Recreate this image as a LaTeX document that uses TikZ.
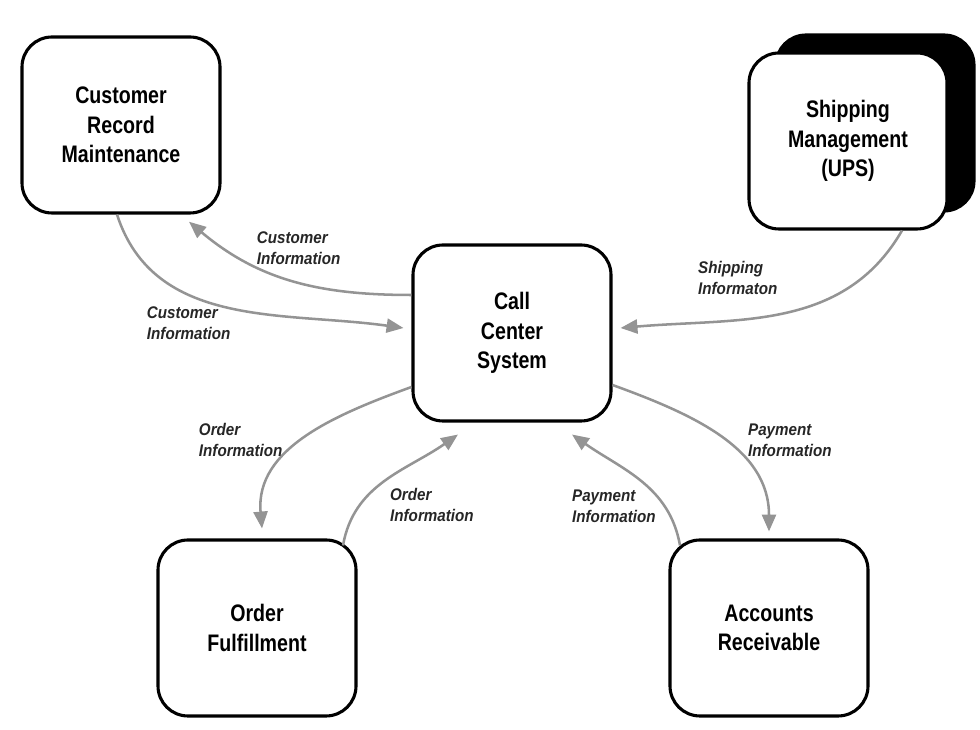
\documentclass[tikz,border=0pt]{standalone}
\usepackage{fontspec}
\newfontfamily\boxfont{Liberation Sans}[FakeStretch=0.82]
\newfontfamily\lblfont{Liberation Sans}[FakeStretch=0.9]
\usetikzlibrary{arrows.meta,shadows}

\begin{document}
\begin{tikzpicture}[
  sysbox/.style={draw=black,line width=2.2pt,rounded corners=0.75cm,fill=white,
    minimum width=4.95cm,minimum height=4.4cm,align=center,
    font=\boxfont\fontsize{17}{21}\selectfont\bfseries},
  flow/.style={draw=black!42,line width=1.8pt,-{Triangle[length=12pt,width=10pt]}},
  info/.style={anchor=west,align=left,text=black!85,
    font=\lblfont\fontsize{12}{15}\selectfont\bfseries\itshape}
]
\useasboundingbox (0,0) rectangle (24.5,18.25);

% systems
\node[sysbox] (crm) at (3.025,15.125) {Customer\\Record\\Maintenance};
\node[sysbox,copy shadow={shadow xshift=0.675cm,shadow yshift=0.45cm,fill=black,draw=black}]
  (ship) at (21.2,14.725) {Shipping\\Management\\(UPS)};
\node[sysbox] (ccs) at (12.8,9.925) {Call\\Center\\System};
\node[sysbox] (of) at (6.425,2.55) {Order\\Fulfillment};
\node[sysbox] (ar) at (19.225,2.55) {Accounts\\Receivable};

% flows
\draw[flow] ([yshift=0.95cm]ccs.west) to[out=180,in=-40] ([xshift=1.7cm,yshift=-0.18cm]crm.south);
\draw[flow] ([xshift=-0.1cm]crm.south) to[out=-72,in=172] ([xshift=-0.2cm,yshift=0.125cm]ccs.west);
\draw[flow] ([xshift=1.35cm]ship.south) to[out=-120,in=5] ([xshift=0.2cm,yshift=0.125cm]ccs.east);
\draw[flow] ([yshift=-1.35cm]ccs.west) to[out=200,in=95] ([xshift=0.125cm,yshift=0.25cm]of.north);
\draw[flow] ([xshift=2.15cm,yshift=-0.175cm]of.north) to[out=80,in=-145] ([xshift=-1.35cm,yshift=-0.3cm]ccs.south);
\draw[flow] ([yshift=-1.3cm]ccs.east) to[out=-20,in=90] ([yshift=0.175cm]ar.north);
\draw[flow] ([xshift=-2.225cm,yshift=-0.175cm]ar.north) to[out=100,in=-35] ([xshift=1.5cm,yshift=-0.3cm]ccs.south);

% labels
\node[info] (l1) at (6.3,12.05) {Customer\\Information};
\node[info] (l2) at (3.55,10.175) {Customer\\Information};
\node[info] (l3) at (17.33,11.3) {Shipping\\Informaton};
\node[info] (l4) at (4.85,7.25) {Order\\Information};
\node[info] (l5) at (9.63,5.625) {Order\\Information};
\node[info] (l6) at (18.58,7.25) {Payment\\Information};
\node[info] (l7) at (14.18,5.6) {Payment\\Information};
\end{tikzpicture}
\end{document}
